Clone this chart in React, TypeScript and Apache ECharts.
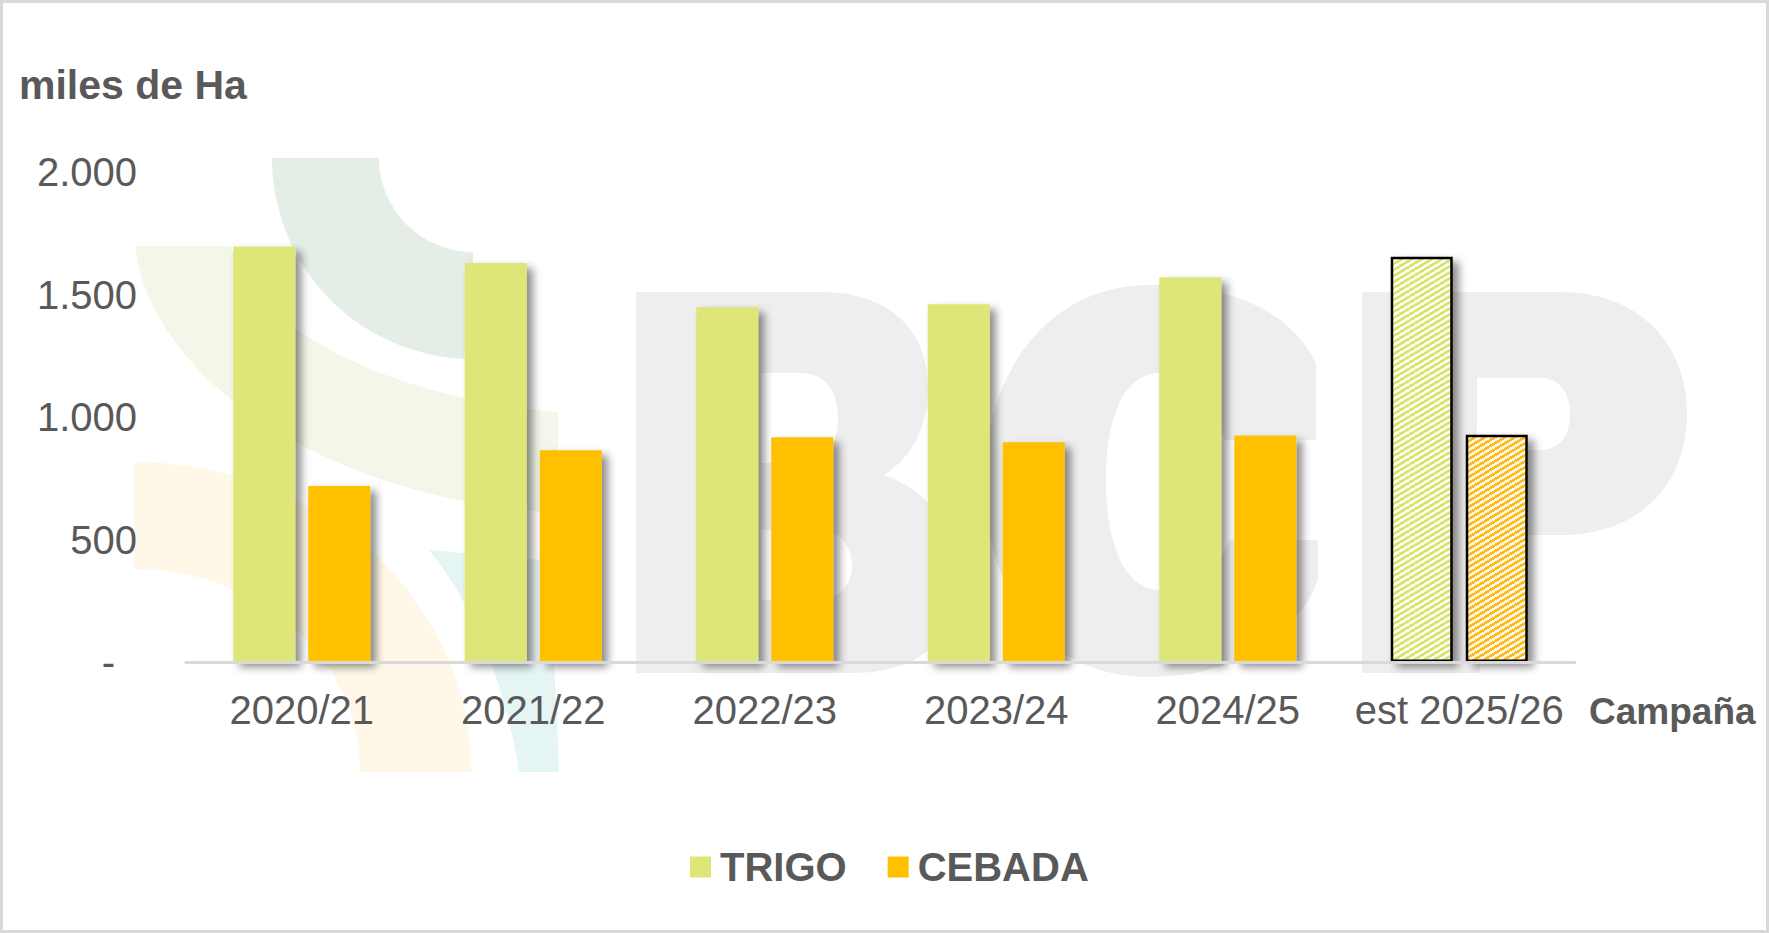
import React, { useEffect, useRef } from "react";
import * as echarts from "echarts";

const categories = ["2020/21", "2021/22", "2022/23", "2023/24", "2024/25", "est 2025/26"];
const trigo = [1696, 1629, 1448, 1460, 1570, 1654];
const cebada = [718, 864, 917, 897, 925, 928];
const estimatedIndex = 5;
const yMin = 0;
const yMax = 2000;
const yInterval = 500;

const FONT = "'Liberation Sans', Arial, Helvetica, sans-serif";
const TEXT = "#595959";
const TRIGO_COLOR = "#dde677";
const CEBADA_COLOR = "#ffc000";

// watermark shapes (logo)
const dB =
  "M636,292 L820,292 C890,292 928,330 928,388 C928,432 908,460 884,475 C932,492 958,532 958,582 C958,640 918,673 852,673 L636,673 Z " +
  "M761,373 L761,463 L800,463 C825,463 838,445 838,418 C838,390 825,373 800,373 Z " +
  "M761,530 L761,600 L815,600 C840,600 852,585 852,565 C852,545 840,530 815,530 Z";
const dC =
  "M1316,363 C1290,310 1230,285 1150,285 C1050,285 985,370 985,481 C985,600 1050,677 1150,677 C1230,677 1295,640 1318,580 L1318,540 " +
  "L1230,540 C1215,575 1185,590 1160,590 C1125,590 1106,545 1106,481 C1106,415 1125,373 1160,373 C1185,373 1210,395 1225,440 L1316,440 Z";
const dP =
  "M1362,292 L1560,292 C1640,292 1687,345 1687,412 C1687,485 1640,535 1560,535 L1480,535 L1480,673 L1362,673 Z " +
  "M1477,378 L1477,450 L1540,450 C1560,450 1570,435 1570,414 C1570,393 1560,378 1540,378 Z";
const dGreen = "M135,246 C150,380 330,500 558,513 L558,412 C400,400 250,330 231,246 Z";
const dOrange = "M134,462 A337,308 0 0 1 471,772 L360,772 A226,201 0 0 0 134,569 Z";
const dCyan = "M429,550 L545,560 C552,620 557,700 559,772 L519,772 C505,680 470,600 429,550 Z";

echarts.graphic.registerShape("wmB", echarts.graphic.extendPath(dB, {}));
echarts.graphic.registerShape("wmC", echarts.graphic.extendPath(dC, {}));
echarts.graphic.registerShape("wmP", echarts.graphic.extendPath(dP, {}));
echarts.graphic.registerShape("wmGreen", echarts.graphic.extendPath(dGreen, {}));
echarts.graphic.registerShape("wmOrange", echarts.graphic.extendPath(dOrange, {}));
echarts.graphic.registerShape("wmCyan", echarts.graphic.extendPath(dCyan, {}));

function makeStripes(color: string, light: string): HTMLCanvasElement {
  const w = 10;
  const h = 6;
  const c = document.createElement("canvas");
  c.width = w;
  c.height = h;
  const ctx = c.getContext("2d")!;
  ctx.fillStyle = light;
  ctx.fillRect(0, 0, w, h);
  ctx.fillStyle = color;
  for (let x = 0; x < w; x++) {
    for (let y = 0; y < h; y++) {
      if ((3 * x + 5 * y) % 30 < 15) ctx.fillRect(x, y, 1, 1);
    }
  }
  return c;
}

function fmt(v: number): string {
  if (v === 0) return "{d|-}";
  return String(v).replace(/\B(?=(\d{3})+(?!\d))/g, ".");
}

export default function App() {
  const ref = useRef<HTMLDivElement>(null);
  useEffect(() => {
    if (!ref.current) return;
    const chart = echarts.init(ref.current, undefined, { renderer: "svg" });
    const shadow = {
      shadowBlur: 8,
      shadowOffsetX: 6,
      shadowOffsetY: 5,
      shadowColor: "rgba(0,0,0,0.45)",
    };
    const estStyle = (color: string, light: string) => ({
      color: { image: makeStripes(color, light), repeat: "repeat" },
      borderColor: "#000",
      borderWidth: 2.5,
      ...shadow,
    });
    const trigoData = trigo.map((v, i) =>
      i === estimatedIndex ? { value: v, itemStyle: estStyle("#d9e46e", "#fbfdf0") } : v
    );
    const cebadaData = cebada.map((v, i) =>
      i === estimatedIndex ? { value: v, itemStyle: estStyle("#ffbb1a", "#fff8e6") } : v
    );
    chart.setOption({
      animation: false,
      backgroundColor: "#ffffff",
      grid: { left: 186, right: 194, top: 172, bottom: 271, containLabel: false },
      xAxis: {
        type: "category",
        data: categories,
        axisLine: { show: true, lineStyle: { color: "#d9d9d9", width: 3 } },
        axisTick: { show: false },
        axisLabel: { fontSize: 40, color: TEXT, fontFamily: FONT, margin: 28, interval: 0 },
        z: 4,
      },
      yAxis: {
        type: "value",
        min: yMin,
        max: yMax,
        interval: yInterval,
        splitLine: { show: false },
        axisLine: { show: false },
        axisTick: { show: false },
        axisLabel: {
          fontSize: 40,
          color: TEXT,
          fontFamily: FONT,
          margin: 49,
          formatter: fmt,
          rich: { d: { fontSize: 40, color: TEXT, fontFamily: FONT, padding: [0, 22, 0, 0] } },
        },
      },
      legend: {
        data: ["TRIGO", "CEBADA"],
        left: 690,
        top: 847,
        padding: 0,
        icon: "rect",
        itemWidth: 21,
        itemHeight: 21,
        itemGap: 41,
        textStyle: { fontSize: 40, fontWeight: "bold", color: TEXT, fontFamily: FONT, padding: [0, 0, 0, 4] },
      },
      series: [
        {
          name: "TRIGO",
          type: "bar",
          data: trigoData,
          barWidth: 62,
          barGap: "21%",
          itemStyle: { color: TRIGO_COLOR, ...shadow },
          z: 3,
        },
        {
          name: "CEBADA",
          type: "bar",
          data: cebadaData,
          barWidth: 62,
          barGap: "21%",
          itemStyle: { color: CEBADA_COLOR, ...shadow },
          z: 3,
        },
      ],
      graphic: {
        elements: [
          { type: "wmGreen", x: 0, y: 0, silent: true, z: -5, style: { fill: "#f2f7e9" } },
          { type: "wmOrange", x: 0, y: 0, silent: true, z: -5, style: { fill: "#fff8e8" } },
          { type: "wmCyan", x: 0, y: 0, silent: true, z: -5, style: { fill: "#e5f5f3" } },
          {
            type: "sector",
            silent: true,
            z: -5,
            shape: { cx: 473, cy: 158, r: 201, r0: 94, startAngle: Math.PI / 2, endAngle: Math.PI, clockwise: true },
            style: { fill: "#e4eee6" },
          },
          { type: "wmB", x: 0, y: 0, silent: true, z: -4, style: { fill: "#eeeeee" } },
          { type: "wmC", x: 0, y: 0, silent: true, z: -4, style: { fill: "#eeeeee" } },
          { type: "wmP", x: 0, y: 0, silent: true, z: -4, style: { fill: "#eeeeee" } },
          {
            type: "text",
            x: 19,
            y: 85,
            z: 10,
            style: {
              text: "miles de Ha",
              fontSize: 41,
              fontWeight: "bold",
              fontFamily: FONT,
              fill: TEXT,
              textAlign: "left",
              textVerticalAlign: "middle",
            },
          },
          {
            type: "text",
            x: 1589,
            y: 711,
            z: 10,
            style: {
              text: "Campaña",
              fontSize: 37,
              fontWeight: "bold",
              fontFamily: FONT,
              fill: TEXT,
              textAlign: "left",
              textVerticalAlign: "middle",
            },
          },
          {
            type: "rect",
            silent: true,
            z: 10,
            shape: { x: 1.5, y: 1.5, width: 1766, height: 930 },
            style: { fill: "none", stroke: "#d9d9d9", lineWidth: 3 },
          },
        ],
      },
    });
    return () => chart.dispose();
  }, []);
  return (
    <div
      ref={ref}
      style={{ position: "fixed", left: 0, top: 0, width: 1769, height: 933 }}
    />
  );
}
